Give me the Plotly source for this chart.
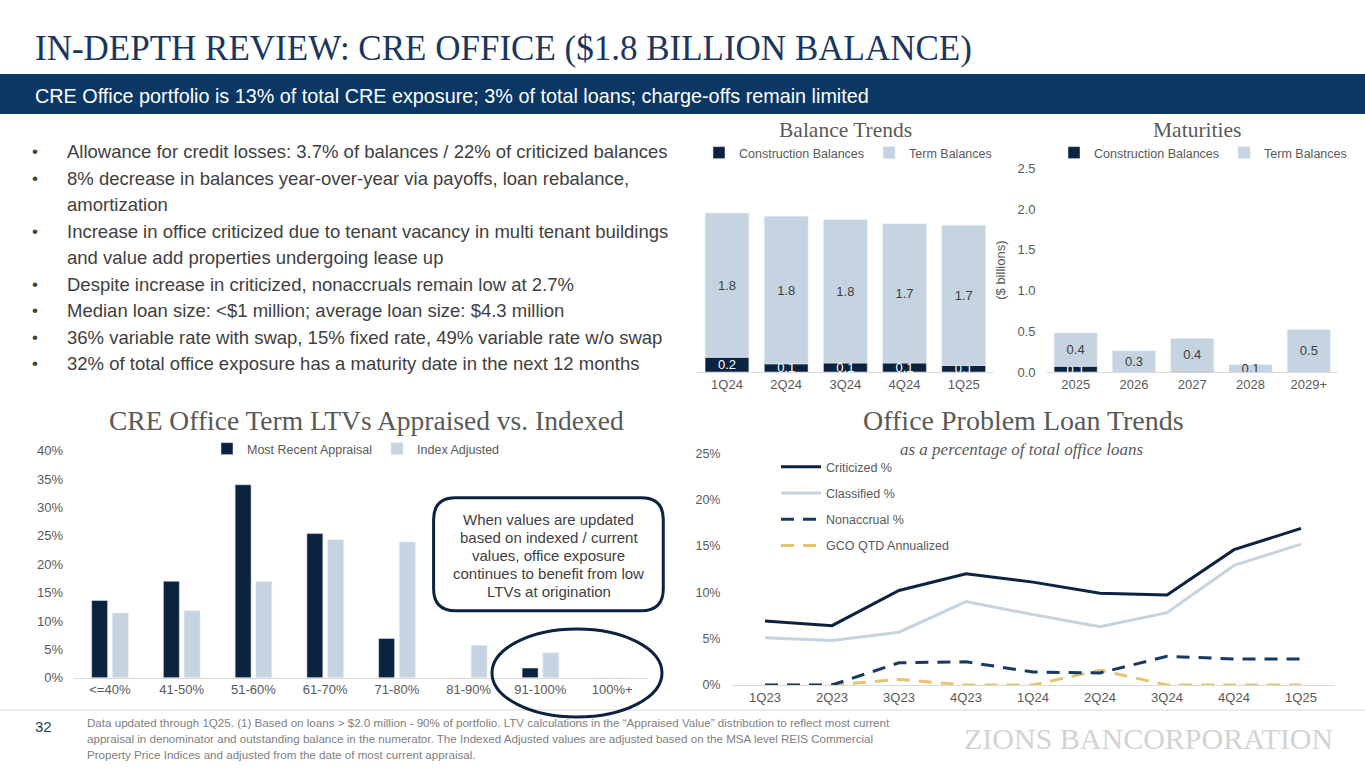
import plotly.graph_objects as go

W, H = 1365, 768


def px(x):
    return x / W


def py(y):
    return 1 - y / H


# ---------------- DATA ----------------
bal_quarters = ["1Q24", "2Q24", "3Q24", "4Q24", "1Q25"]
bal_construction = [0.18, 0.10, 0.11, 0.11, 0.08]
bal_term = [1.77, 1.81, 1.76, 1.71, 1.72]

mat_years = ["2025", "2026", "2027", "2028", "2029+"]
mat_construction = [0.07, 0.0, 0.01, 0.0, 0.0]
mat_term = [0.41, 0.26, 0.40, 0.09, 0.52]

ltv_buckets = ["<=40%", "41-50%", "51-60%", "61-70%", "71-80%", "81-90%", "91-100%", "100%+"]
ltv_appraisal = [13.6, 17.0, 34.0, 25.4, 6.9, 0.0, 1.7, 0.0]
ltv_indexed = [11.4, 11.8, 16.9, 24.3, 23.9, 5.7, 4.4, 0.0]

plt_quarters = ["1Q23", "2Q23", "3Q23", "4Q23", "1Q24", "2Q24", "3Q24", "4Q24", "1Q25"]
criticized = [6.9, 6.4, 10.2, 12.0, 11.1, 9.9, 9.7, 14.6, 16.9]
classified = [5.1, 4.8, 5.7, 9.0, 7.6, 6.3, 7.8, 12.9, 15.2]
nonaccrual = [0.0, 0.0, 2.4, 2.5, 1.4, 1.3, 3.1, 2.8, 2.8]
gco = [0.0, 0.0, 0.6, 0.0, 0.0, 1.6, 0.0, 0.0, 0.0]

bullets = [
    ["Allowance for credit losses: 3.7% of balances / 22% of criticized balances"],
    ["8% decrease in balances year-over-year via payoffs, loan rebalance,", "amortization"],
    ["Increase in office criticized due to tenant vacancy in multi tenant buildings",
     "and value add properties undergoing lease up"],
    ["Despite increase in criticized, nonaccruals remain low at 2.7%"],
    ["Median loan size: &lt;$1 million; average loan size: $4.3 million"],
    ["36% variable rate with swap, 15% fixed rate, 49% variable rate w/o swap"],
    ["32% of total office exposure has a maturity date in the next 12 months"],
]

callout_lines = ["When values are updated", "based on indexed / current", "values, office exposure",
                 "continues to benefit from low", "LTVs at origination"]

footnote_lines = [
    "Data updated through 1Q25. (1) Based on loans &gt; $2.0 million - 90% of portfolio. LTV calculations in the \u201cAppraised Value\u201d distribution to reflect most current",
    "appraisal in denominator and outstanding balance in the numerator. The Indexed Adjusted values are adjusted based on the MSA level REIS Commercial",
    "Property Price Indices and adjusted from the date of most current appraisal.",
]

# ---------------- STYLE ----------------
DARK = "#0c2340"
LIGHT = "#c5d4e0"
NAVY_DASH = "#173a63"
GOLD = "#e6c46c"
GRAY = "#595959"
TXT = "#404040"
SANS = "Liberation Sans, Arial, sans-serif"
SERIF = "Liberation Serif, Times New Roman, serif"


def lbl(vals, minv=0.05):
    return [f"{v:.1f}" if v >= minv else "" for v in vals]


fig = go.Figure()

# Balance Trends (stacked via base)
fig.add_trace(go.Bar(
    x=bal_quarters, y=bal_construction, name="Construction Balances", marker_color=DARK,
    width=0.74, text=lbl(bal_construction), textposition="inside", insidetextanchor="middle",
    textangle=0, constraintext="none", textfont=dict(color="white", size=13, family=SANS),
    xaxis="x", yaxis="y", legend="legend"))
fig.add_trace(go.Bar(
    x=bal_quarters, y=bal_term, base=bal_construction, name="Term Balances", marker_color=LIGHT,
    width=0.74, text=lbl(bal_term), textposition="inside", insidetextanchor="middle",
    textangle=0, constraintext="none", textfont=dict(color=TXT, size=13, family=SANS),
    xaxis="x", yaxis="y", legend="legend"))

# Maturities
fig.add_trace(go.Bar(
    x=mat_years, y=mat_construction, name="Construction Balances", marker_color=DARK,
    width=0.74, text=lbl(mat_construction), textposition="inside", insidetextanchor="middle",
    textangle=0, constraintext="none", textfont=dict(color="white", size=13, family=SANS),
    xaxis="x2", yaxis="y2", legend="legend2"))
fig.add_trace(go.Bar(
    x=mat_years, y=mat_term, base=mat_construction, name="Term Balances", marker_color=LIGHT,
    width=0.74, text=lbl(mat_term), textposition="inside", insidetextanchor="middle",
    textangle=0, constraintext="none", textfont=dict(color=TXT, size=13, family=SANS),
    xaxis="x2", yaxis="y2", legend="legend2"))

# LTV grouped bars
fig.add_trace(go.Bar(
    x=ltv_buckets, y=ltv_appraisal, name="Most Recent Appraisal", marker_color=DARK,
    width=0.222, offset=-0.254, xaxis="x3", yaxis="y3", legend="legend3"))
fig.add_trace(go.Bar(
    x=ltv_buckets, y=ltv_indexed, name="Index Adjusted", marker_color=LIGHT,
    width=0.222, offset=0.035, xaxis="x3", yaxis="y3", legend="legend3"))

# Problem loan lines (drawn bottom-up so Criticized is on top; legend order via legendrank)
line_specs = [
    ("GCO QTD Annualized", gco, dict(color=GOLD, width=3, dash="13px,9px"), 4),
    ("Nonaccrual %", nonaccrual, dict(color=NAVY_DASH, width=3, dash="13px,9px"), 3),
    ("Classified %", classified, dict(color=LIGHT, width=3), 2),
    ("Criticized %", criticized, dict(color=DARK, width=3), 1),
]
for nm, vals, ln, rank in line_specs:
    fig.add_trace(go.Scatter(
        x=plt_quarters, y=vals, name=nm, mode="lines", line=ln, legendrank=rank,
        xaxis="x4", yaxis="y4", legend="legend4", legendgroup=f"g{rank}"))

tickfont = dict(family=SANS, size=13, color=GRAY)
base_x = dict(type="category", showgrid=False, zeroline=False, showline=True, linecolor="#d9d9d9",
              linewidth=1, ticks="", tickfont=tickfont, fixedrange=True, automargin=False)
base_y = dict(showgrid=False, zeroline=False, showline=False, ticks="", tickfont=tickfont,
              fixedrange=True, automargin=False)

legfont = dict(family=SANS, size=12.5, color=GRAY)

fig.update_layout(
    width=W, height=H, autosize=False,
    margin=dict(l=0, r=0, t=0, b=0, pad=0, autoexpand=False),
    paper_bgcolor="white", plot_bgcolor="white",
    barmode="overlay", showlegend=True,
    font=dict(family=SANS, color=GRAY),
    xaxis=dict(base_x, domain=[px(697.4), px(993.3)], anchor="y", range=[-0.5, 4.5]),
    yaxis=dict(base_y, domain=[py(372), py(168.3)], anchor="x", range=[0, 2.5], visible=False),
    xaxis2=dict(base_x, domain=[px(1046.5), px(1338)], anchor="y2", range=[-0.5, 4.5]),
    yaxis2=dict(base_y, domain=[py(372), py(168.3)], anchor="x2", range=[0, 2.5], dtick=0.5,
                tickformat=".1f", ticklabelstandoff=10,
                title=dict(text="($ billions)", font=dict(family=SANS, size=13, color=GRAY), standoff=8)),
    xaxis3=dict(base_x, domain=[px(74), px(648)], anchor="y3", range=[-0.5, 7.5]),
    yaxis3=dict(base_y, domain=[py(677.7), py(450.7)], anchor="x3", range=[0, 40], dtick=5,
                ticksuffix="%", ticklabelstandoff=10, tickfont=dict(family=SANS, size=13, color=GRAY)),
    xaxis4=dict(base_x, domain=[px(731.5), px(1334.5)], anchor="y4", range=[-0.5, 8.5]),
    yaxis4=dict(base_y, domain=[py(685), py(453.3)], anchor="x4", range=[0, 25], dtick=5,
                ticksuffix="%", ticklabelstandoff=10, tickfont=dict(family=SANS, size=12.5, color=GRAY)),
    legend=dict(orientation="h", x=px(848), y=py(153), xanchor="center", yanchor="middle",
                font=legfont, bgcolor="rgba(0,0,0,0)", itemwidth=30),
    legend2=dict(orientation="h", x=px(1203), y=py(153), xanchor="center", yanchor="middle",
                 font=legfont, bgcolor="rgba(0,0,0,0)", itemwidth=30),
    legend3=dict(orientation="h", x=px(356), y=py(449), xanchor="center", yanchor="middle",
                 font=legfont, bgcolor="rgba(0,0,0,0)", itemwidth=30),
    legend4=dict(orientation="v", x=px(776), y=py(452), xanchor="left", yanchor="top",
                 font=dict(family=SANS, size=12.5, color=GRAY), bgcolor="rgba(0,0,0,0)",
                 traceorder="grouped", tracegroupgap=7, itemwidth=40),
)

shapes = []
shapes.append(dict(type="rect", xref="paper", yref="paper", x0=0, x1=1, y0=py(114), y1=py(74),
                   fillcolor="#0b3764", line=dict(width=0), layer="below"))
shapes.append(dict(type="line", xref="paper", yref="paper", x0=0, x1=1, y0=py(710), y1=py(710),
                   line=dict(color="#d9d9d9", width=1)))
bx0, bx1, by0, by1 = px(433.6), px(663.3), py(610.7), py(497.7)
rx, ry = 22 / W, 22 / H
path = (f"M {bx0+rx},{by0} L {bx1-rx},{by0} Q {bx1},{by0} {bx1},{by0+ry} "
        f"L {bx1},{by1-ry} Q {bx1},{by1} {bx1-rx},{by1} L {bx0+rx},{by1} "
        f"Q {bx0},{by1} {bx0},{by1-ry} L {bx0},{by0+ry} Q {bx0},{by0} {bx0+rx},{by0} Z")
shapes.append(dict(type="path", xref="paper", yref="paper", path=path, fillcolor="white",
                   line=dict(color=DARK, width=3), layer="above"))
shapes.append(dict(type="circle", xref="paper", yref="paper", x0=px(492), x1=px(662),
                   y0=py(717), y1=py(629), line=dict(color=DARK, width=3), layer="above"))
fig.update_layout(shapes=shapes)

ann = []
ann.append(dict(text="IN-DEPTH REVIEW: CRE OFFICE ($1.8 BILLION BALANCE)", x=px(33), y=py(48),
                xanchor="left", yanchor="middle",
                font=dict(family=SERIF, size=35, color="#1b365d")))
ann.append(dict(text="CRE Office portfolio is 13% of total CRE exposure; 3% of total loans; charge-offs remain limited",
                x=px(33), y=py(96), xanchor="left", yanchor="middle",
                font=dict(family=SANS, size=19.8, color="white")))

yb = 151.7
for b in bullets:
    for j, line in enumerate(b):
        if j == 0:
            ann.append(dict(text="\u2022", x=px(35), y=py(yb), xanchor="center", yanchor="middle",
                            font=dict(family=SANS, size=17, color=TXT)))
        ann.append(dict(text=line, x=px(65), y=py(yb), xanchor="left", yanchor="middle",
                        font=dict(family=SANS, size=18.5, color=TXT)))
        yb += 26.5

ann.append(dict(text="Balance Trends", x=px(845), y=py(130), xanchor="center", yanchor="middle",
                font=dict(family=SERIF, size=21.5, color=GRAY)))
ann.append(dict(text="Maturities", x=px(1197), y=py(130), xanchor="center", yanchor="middle",
                font=dict(family=SERIF, size=21.5, color=GRAY)))
ann.append(dict(text="CRE Office Term LTVs Appraised vs. Indexed", x=px(366), y=py(420),
                xanchor="center", yanchor="middle", font=dict(family=SERIF, size=27.5, color=GRAY)))
ann.append(dict(text="Office Problem Loan Trends", x=px(1023), y=py(420),
                xanchor="center", yanchor="middle", font=dict(family=SERIF, size=28, color=GRAY)))
ann.append(dict(text="<i>as a percentage of total office loans</i>", x=px(1021), y=py(449),
                xanchor="center", yanchor="middle", font=dict(family=SERIF, size=17, color=GRAY)))

yc = 519
for line in callout_lines:
    ann.append(dict(text=line, x=px(548.5), y=py(yc), xanchor="center", yanchor="middle",
                    font=dict(family=SANS, size=15, color=TXT)))
    yc += 18

ann.append(dict(text="32", x=px(33), y=py(726), xanchor="left", yanchor="middle",
                font=dict(family=SANS, size=15, color="#1f3a5f")))
yf = 722
for line in footnote_lines:
    ann.append(dict(text=line, x=px(85), y=py(yf), xanchor="left", yanchor="middle",
                    font=dict(family=SANS, size=11.6, color="#808080")))
    yf += 16
ann.append(dict(text="ZIONS BANCORPORATION", x=px(1335), y=py(738), xanchor="right", yanchor="middle",
                font=dict(family=SERIF, size=30, color="#d3d3d3")))

for a in ann:
    a.setdefault("xref", "paper")
    a.setdefault("yref", "paper")
    a.setdefault("showarrow", False)
fig.update_layout(annotations=ann)

fig.write_html("out.html", config={"displayModeBar": False},
               post_script="document.body.style.margin='0';document.body.style.overflow='hidden';")
